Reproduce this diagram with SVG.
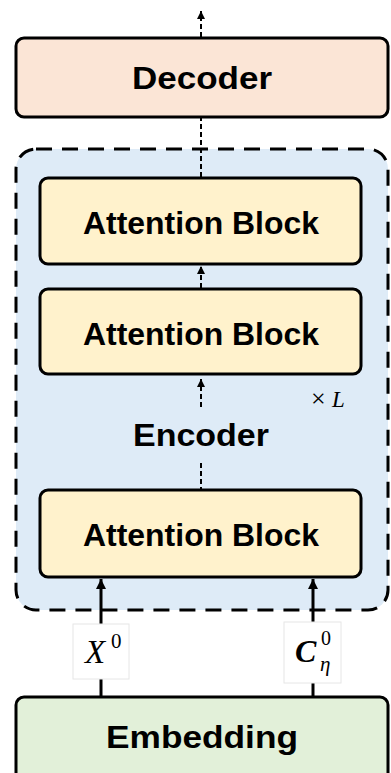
<svg xmlns="http://www.w3.org/2000/svg" width="391" height="773" viewBox="0 0 391 773">
  <defs>
    <marker id="ah" viewBox="0 0 10 10" refX="10" refY="5" markerWidth="10" markerHeight="10" markerUnits="userSpaceOnUse" orient="auto">
      <path d="M0,0 L10,5 L0,10 z" fill="#000"/>
    </marker>
    <marker id="ahs" viewBox="0 0 10 10" refX="10" refY="5" markerWidth="8" markerHeight="8" markerUnits="userSpaceOnUse" orient="auto">
      <path d="M0,0 L10,5 L0,10 z" fill="#000"/>
    </marker>
  </defs>
  <style>
    .box { stroke: #000; stroke-width: 3; }
    .lbl { font-family: "Liberation Sans", Arial, sans-serif; font-weight: bold; font-size: 32px; fill: #000; text-anchor: middle; }
    .dash { stroke: #000; stroke-width: 2; stroke-dasharray: 5 3; fill: none; }
    .solid { stroke: #000; stroke-width: 3; fill: none; }
    .math { font-family: "Liberation Serif", "Times New Roman", serif; fill: #000; }
    .mlbox { fill: #fff; stroke: #e6e6e6; stroke-width: 1; }
  </style>

  <g id="encoder">
    <rect x="16" y="149" width="372" height="461" rx="20" ry="20" fill="#DEEBF7" stroke="#000" stroke-width="3" stroke-dasharray="16 10"/>
    <text class="lbl" x="201" y="446" textLength="136" lengthAdjust="spacingAndGlyphs">Encoder</text>
    <text class="math" x="311" y="407" font-size="26">×</text>
    <text class="math" x="332" y="407" font-size="23" font-style="italic">L</text>
  </g>

  <g id="decoder">
    <rect class="box" x="16" y="38" width="372" height="79" rx="8" ry="8" fill="#FBE5D6"/>
    <text class="lbl" x="202" y="89" textLength="140" lengthAdjust="spacingAndGlyphs">Decoder</text>
  </g>

  <g id="block1">
    <rect class="box" x="40" y="178" width="321" height="86" rx="8" ry="8" fill="#FFF2CC"/>
    <text class="lbl" x="201" y="234" textLength="236" lengthAdjust="spacingAndGlyphs">Attention Block</text>
  </g>

  <g id="block2">
    <rect class="box" x="40" y="289" width="321" height="85" rx="8" ry="8" fill="#FFF2CC"/>
    <text class="lbl" x="201" y="345" textLength="236" lengthAdjust="spacingAndGlyphs">Attention Block</text>
  </g>

  <g id="block3">
    <rect class="box" x="40" y="490" width="321" height="87" rx="8" ry="8" fill="#FFF2CC"/>
    <text class="lbl" x="201" y="546" textLength="236" lengthAdjust="spacingAndGlyphs">Attention Block</text>
  </g>

  <g id="embedding">
    <rect class="box" x="16" y="697" width="372" height="100" rx="8" ry="8" fill="#E2F0D9"/>
    <text class="lbl" x="202" y="748" textLength="192" lengthAdjust="spacingAndGlyphs">Embedding</text>
  </g>

  <g id="connectors">
    <line class="dash" x1="201" y1="37" x2="201" y2="11" marker-end="url(#ahs)"/>
    <line class="dash" x1="201" y1="177" x2="201" y2="118"/>
    <line class="dash" x1="201" y1="288" x2="201" y2="266" marker-end="url(#ahs)"/>
    <line class="dash" x1="201" y1="407" x2="201" y2="379" marker-end="url(#ahs)"/>
    <line class="dash" x1="201" y1="463" x2="201" y2="489"/>
    <line class="solid" x1="101" y1="696" x2="101" y2="579" marker-end="url(#ah)"/>
    <line class="solid" x1="313" y1="696" x2="313" y2="579" marker-end="url(#ah)"/>
  </g>

  <g id="label-x0">
    <rect class="mlbox" x="73" y="624" width="56" height="55"/>
    <text class="math" x="85" y="663" font-size="33" font-style="italic">X</text>
    <text class="math" x="111" y="648" font-size="21">0</text>
  </g>

  <g id="label-c0">
    <rect class="mlbox" x="284" y="622" width="57" height="61"/>
    <text class="math" x="295" y="662" font-size="32" font-style="italic" font-weight="bold">C</text>
    <text class="math" x="321" y="645" font-size="20">0</text>
    <text class="math" x="320" y="671" font-size="21" font-style="italic">η</text>
  </g>
</svg>
